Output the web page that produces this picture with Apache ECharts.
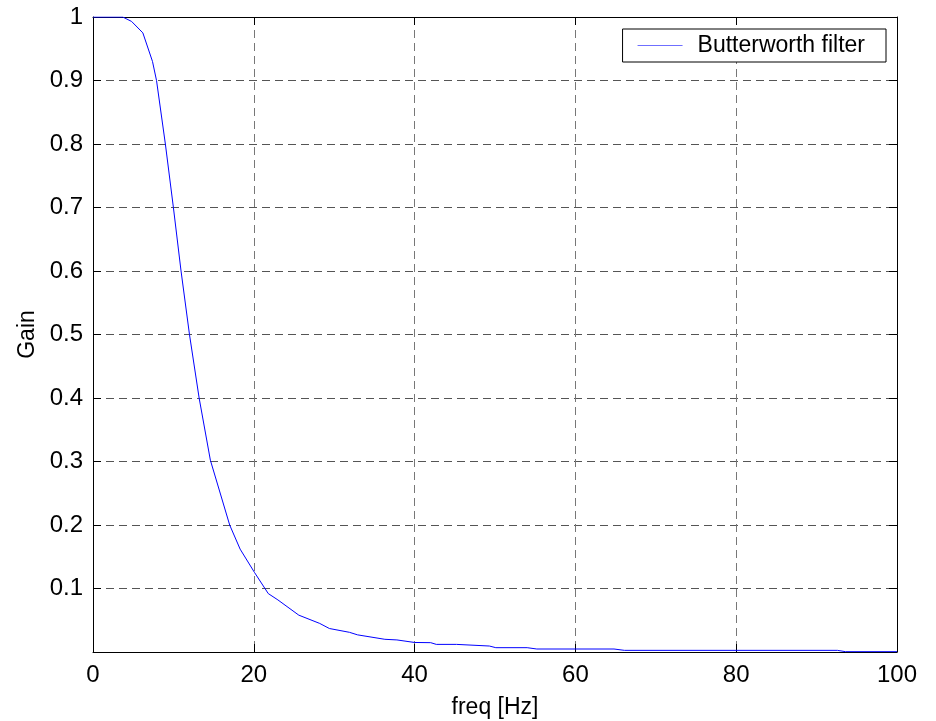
<!DOCTYPE html>
<html>
<head>
<meta charset="utf-8">
<title>Butterworth filter</title>
<script src="https://cdn.jsdelivr.net/npm/echarts@6/dist/echarts.min.js"></script>
<style>
  html, body { margin: 0; padding: 0; background: #fff; }
  #chart { width: 936px; height: 721px; }
</style>
</head>
<body>
<div id="chart"></div>
<script>
// values
const freq = [0, 3.7, 4.8, 6.2, 7.4, 7.9, 9.0, 10.0, 10.95, 12.0, 13.2, 14.6, 17.0, 18.3, 20.1, 21.8, 23.0, 25.6, 28.2, 29.4, 31.9, 32.9, 36.3, 37.8, 40.0, 42.0, 42.7, 45.2, 45.4, 49.3, 50.1, 54.0, 55.2, 64.8, 66.1, 92.6, 93.6, 100];
const gain = [1, 1, 0.993, 0.975, 0.930, 0.9, 0.8, 0.7, 0.6, 0.5, 0.4, 0.302, 0.2, 0.162, 0.125, 0.092, 0.082, 0.058, 0.045, 0.037, 0.031, 0.027, 0.020, 0.019, 0.015, 0.0147, 0.012, 0.012, 0.0094, 0.0094, 0.0068, 0.0068, 0.0047, 0.0047, 0.0026, 0.0026, 0.0005, 0.0005];
const xTicks = [0, 20, 40, 60, 80, 100];
const yTicks = [0.1, 0.2, 0.3, 0.4, 0.5, 0.6, 0.7, 0.8, 0.9, 1];

const font = 'Liberation Sans, Arial, sans-serif';
const chart = echarts.init(document.getElementById('chart'));

const frameAxis = {
  axisLine: { show: true, onZero: false, lineStyle: { color: '#000', width: 1 } },
  axisTick: { show: true, inside: true, length: 8, lineStyle: { color: '#000' } },
  axisLabel: { show: false },
  splitLine: { show: false }
};

chart.setOption({
  backgroundColor: '#fff',
  animation: false,
  grid: { left: 93, right: 39, top: 17, bottom: 69, containLabel: false, outerBoundsMode: 'none' },
  legend: {
    data: ['Butterworth filter'],
    right: 50,
    top: 29,
    orient: 'vertical',
    backgroundColor: '#fff',
    borderColor: '#000',
    borderWidth: 1,
    borderRadius: 0,
    padding: [5, 21, 5, 15],
    icon: 'rect',
    itemWidth: 45,
    itemHeight: 1,
    itemStyle: { color: '#6f6fff' },
    textStyle: { fontFamily: font, fontSize: 23, color: '#000', padding: [0, 0, 0, 10] }
  },
  xAxis: [
    {
      type: 'value',
      min: xTicks[0],
      max: xTicks[xTicks.length - 1],
      interval: 20,
      name: 'freq [Hz]',
      nameLocation: 'middle',
      nameGap: 44,
      nameTextStyle: { fontFamily: font, fontSize: 23, color: '#000' },
      axisLine: { show: true, onZero: false, lineStyle: { color: '#000', width: 1 } },
      axisTick: { show: true, inside: true, length: 8, lineStyle: { color: '#000' } },
      axisLabel: { margin: 11, fontFamily: font, fontSize: 24, color: '#000' },
      splitLine: { show: true, lineStyle: { color: '#777', type: [8, 5], width: 1 } }
    },
    Object.assign({ type: 'value', position: 'top', min: 0, max: 100, interval: 20 }, frameAxis)
  ],
  yAxis: [
    {
      type: 'value',
      min: 0,
      max: yTicks[yTicks.length - 1],
      interval: 0.1,
      name: 'Gain',
      nameLocation: 'middle',
      nameGap: 52,
      nameTextStyle: { fontFamily: font, fontSize: 23, color: '#000' },
      axisLine: { show: true, onZero: false, lineStyle: { color: '#000', width: 1 } },
      axisTick: { show: true, inside: true, length: 8, lineStyle: { color: '#000' } },
      axisLabel: {
        margin: 10,
        fontFamily: font,
        fontSize: 24,
        color: '#000',
        formatter: function (v) {
          if (v === 0) return '';
          return String(Math.round(v * 10) / 10);
        }
      },
      splitLine: { show: true, lineStyle: { color: '#555', type: [8, 5], width: 1 } }
    },
    Object.assign({ type: 'value', position: 'right', min: 0, max: 1, interval: 0.1 }, frameAxis)
  ],
  series: [
    {
      name: 'Butterworth filter',
      type: 'line',
      xAxisIndex: 0,
      yAxisIndex: 0,
      data: freq.map((f, i) => [f, gain[i]]),
      symbol: 'none',
      smooth: false,
      lineStyle: { color: '#0000ff', width: 1 },
      itemStyle: { color: '#0000ff' }
    }
  ]
});
</script>
</body>
</html>
